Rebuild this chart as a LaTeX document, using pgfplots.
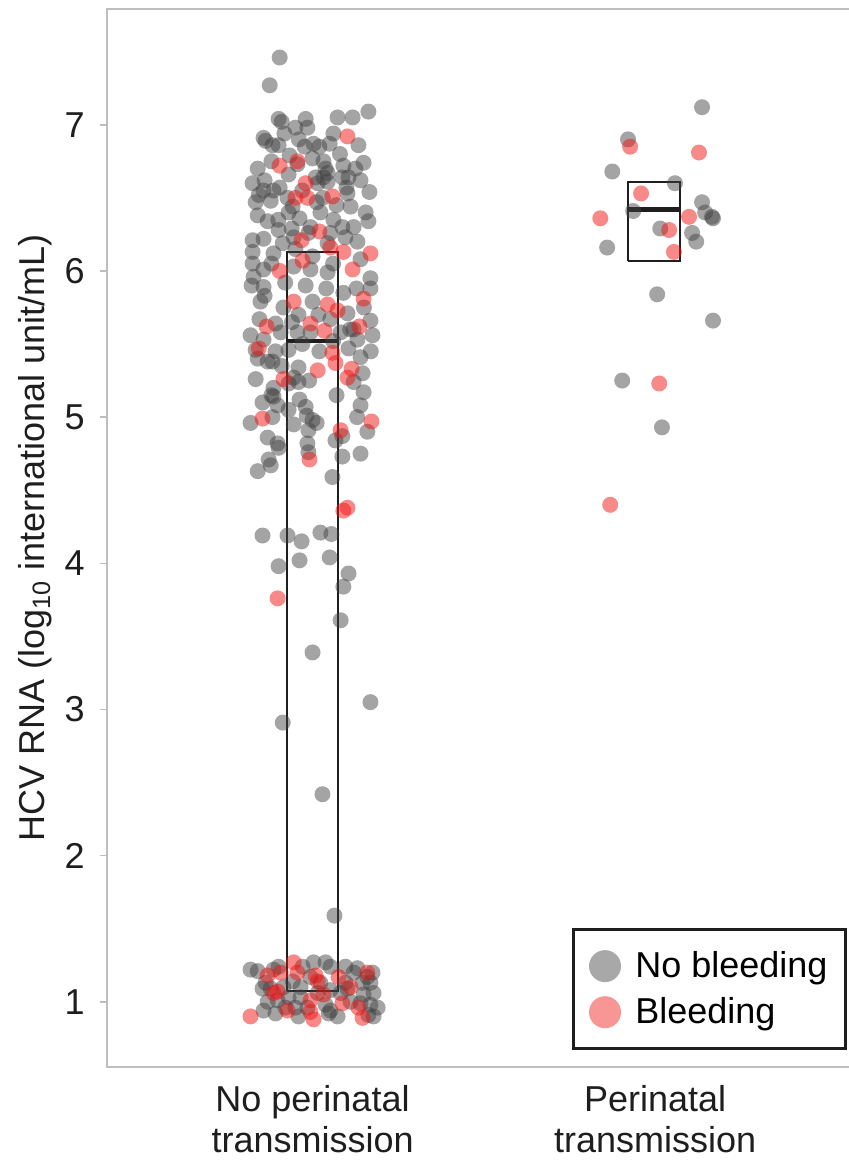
\documentclass[border=0pt]{standalone}
\usepackage{fontspec}
\setmainfont{Liberation Sans}
\usepackage{pgfplots}
\usepackage{pgfplotstable}
\pgfplotsset{compat=1.18}

\definecolor{ptgray}{RGB}{64,64,64}
\definecolor{ptred}{RGB}{240,20,20}
\definecolor{axgray}{RGB}{190,190,190}
\definecolor{txt}{RGB}{30,30,30}

% no bleeding: x (1 = no transmission, 2 = transmission, with jitter), HCV RNA
\pgfplotstableread{
x y
0.904 7.46
0.875 7.27
1.163 7.09
1.073 7.05
1.117 7.05
0.901 7.04
0.910 7.02
0.980 7.04
0.985 6.98
0.950 6.98
0.918 6.94
1.061 6.94
0.857 6.91
0.863 6.89
0.883 6.86
0.901 6.86
1.050 6.87
1.134 6.86
0.977 6.85
1.003 6.87
0.933 6.79
0.956 6.73
1.000 6.77
1.032 6.75
1.038 6.70
1.044 6.67
1.032 6.64
1.090 6.72
1.149 6.74
1.125 6.70
0.840 6.70
0.930 6.66
1.087 6.64
1.105 6.64
0.825 6.60
1.009 6.64
1.015 6.60
1.044 6.61
0.904 6.57
0.857 6.55
0.886 6.55
1.099 6.57
0.843 6.52
0.927 6.50
1.012 6.47
1.102 6.53
0.834 6.47
0.878 6.48
1.166 6.54
0.942 6.44
1.023 6.40
1.111 6.44
1.155 6.40
1.163 6.34
0.840 6.38
0.869 6.34
0.962 6.36
0.994 6.30
1.061 6.35
1.087 6.30
0.901 6.28
0.939 6.29
1.052 6.26
0.825 6.21
0.857 6.22
0.913 6.19
0.945 6.23
0.988 6.26
1.096 6.23
1.131 6.20
1.044 6.19
0.825 6.13
0.886 6.12
0.825 6.05
0.857 6.01
0.945 6.03
0.994 6.01
1.044 5.99
1.169 5.95
0.828 5.96
0.848 5.79
1.000 5.79
1.128 5.88
1.169 5.88
0.822 5.90
0.857 5.89
0.915 5.75
0.959 5.70
1.017 5.70
1.102 5.71
1.052 5.67
0.845 5.67
0.892 5.64
1.169 5.66
1.120 5.60
0.819 5.56
0.857 5.53
0.907 5.58
0.956 5.58
0.994 5.58
1.082 5.58
1.175 5.56
1.131 5.53
0.834 5.46
1.105 5.47
0.892 5.45
0.930 5.46
1.140 5.41
0.869 5.38
0.883 5.38
0.959 5.34
1.146 5.30
0.834 5.26
0.945 5.27
0.930 5.23
0.959 5.24
1.120 5.24
0.886 5.20
1.149 5.17
0.962 5.12
0.854 5.10
0.886 5.14
0.898 5.08
1.140 5.08
0.980 5.07
0.883 5.00
0.983 5.01
1.000 4.98
0.819 4.96
0.945 4.95
1.012 4.96
0.988 4.91
1.160 4.90
0.869 4.86
1.087 4.87
1.067 4.84
0.898 4.82
0.901 4.79
0.985 4.82
0.988 4.76
1.140 4.75
1.087 4.73
0.872 4.71
0.878 4.67
0.840 4.63
1.058 4.59
0.930 6.40
0.970 6.55
1.030 6.50
1.070 6.45
0.900 6.35
1.120 6.30
0.950 6.15
1.000 6.10
1.060 6.05
0.880 6.05
1.140 6.08
0.920 5.92
0.980 5.90
1.040 5.88
1.090 5.85
0.860 5.83
1.150 5.75
0.940 5.65
1.110 5.60
0.970 5.50
1.060 5.52
0.840 5.40
1.020 5.45
0.910 5.35
1.170 5.45
0.990 5.25
1.070 5.15
0.880 5.15
1.130 5.00
0.930 5.05
1.020 6.85
0.960 6.90
1.140 6.62
0.860 6.62
1.080 6.80
0.880 6.75
0.854 4.19
0.927 4.19
0.968 4.15
1.023 4.21
1.055 4.20
0.901 3.98
0.962 4.02
1.050 4.04
1.105 3.93
1.090 3.84
1.082 3.61
1.000 3.39
1.169 3.05
0.913 2.91
1.029 2.42
1.064 1.59
0.819 1.22
0.840 1.21
0.863 1.13
0.886 1.22
0.901 1.24
0.854 1.09
0.878 1.09
0.915 1.10
0.971 1.24
1.003 1.27
1.038 1.27
0.994 1.17
1.023 1.13
1.096 1.24
1.131 1.23
1.175 1.20
1.169 1.13
1.146 1.13
1.102 1.09
1.082 1.06
1.052 1.08
0.965 1.10
0.942 1.14
0.869 1.00
0.898 1.01
0.965 1.03
0.985 0.96
1.038 0.98
1.052 0.94
1.111 1.00
1.140 0.99
1.169 0.98
1.163 0.91
1.178 0.90
1.073 0.90
1.047 0.92
0.959 0.90
0.921 0.96
0.892 0.92
0.857 0.94
1.178 1.06
1.149 1.05
1.160 1.17
1.120 1.20
1.096 1.13
1.015 1.06
0.930 1.03
0.950 0.96
1.190 0.96
1.052 1.24
2.137 7.12
1.921 6.90
1.875 6.68
2.058 6.60
2.137 6.47
1.936 6.41
2.146 6.40
2.166 6.37
2.169 6.36
2.015 6.29
2.108 6.26
2.120 6.20
1.860 6.16
2.006 5.84
2.169 5.66
1.904 5.25
2.020 4.93
}\nobleed

% bleeding
\pgfplotstableread{
x y
1.102 6.92
0.904 6.72
0.956 6.75
0.980 6.60
0.950 6.50
0.985 6.50
1.058 6.51
1.020 6.27
0.968 6.21
1.052 6.16
1.090 6.13
1.169 6.12
0.971 6.07
1.117 6.01
0.904 6.00
0.945 5.79
1.044 5.77
1.073 5.73
1.149 5.81
0.994 5.64
0.866 5.62
1.137 5.62
1.035 5.59
0.843 5.47
1.058 5.44
1.067 5.37
1.015 5.32
1.114 5.33
1.102 5.27
0.915 5.26
0.854 4.99
1.172 4.97
1.082 4.91
0.991 4.71
1.090 4.36
1.102 4.38
0.898 3.76
0.869 1.18
0.907 1.20
0.898 1.07
0.945 1.27
0.956 1.20
1.009 1.18
1.015 1.14
1.076 1.17
1.160 1.20
1.111 1.10
1.032 1.05
0.886 1.06
0.994 1.01
1.087 0.99
1.134 0.96
1.146 0.89
0.994 0.93
1.003 0.88
0.927 0.94
0.819 0.90
1.927 6.85
2.128 6.81
1.959 6.53
1.840 6.36
2.099 6.37
2.041 6.28
2.055 6.13
2.012 5.23
1.869 4.40
}\bleed

\begin{document}
\begin{tikzpicture}
\useasboundingbox (-53.5pt,-47pt) rectangle (371pt,533.5pt);
\begin{axis}[
    scale only axis,
    width=371pt, height=529pt,
    xmin=0.4, xmax=2.566,
    ymin=0.554, ymax=7.792,
    axis line style={draw=none},
    font=\fontsize{18}{20.5}\selectfont\color{txt},
    /pgf/number format/assume math mode=true,
    xtick={1,2},
    xticklabels={No perinatal\\transmission, Perinatal\\transmission},
    xticklabel style={align=center, inner sep=0pt, yshift=-5.5pt},
    xtick style={draw=none},
    ytick={1,2,3,4,5,6,7},
    yticklabel style={inner sep=0pt, xshift=-7.5pt},
    tick align=outside,
    major tick length=3.5pt,
    ytick style={draw=axgray, line width=0.75pt},
    ylabel={HCV RNA (log\textsubscript{10} international unit/mL)},
    ylabel style={at={(axis description cs:-0.097,0.5)}, anchor=center, rotate=0},
    legend cell align=left,
    legend style={at={(0.997,0.016)}, anchor=south east, draw=txt,
        line width=1.3pt, inner xsep=7pt, inner ysep=9pt, row sep=4.5pt,
        font=\fontsize{18}{20.5}\selectfont,
        /tikz/every odd column/.append style={column sep=4.5pt}},
]
\addplot[only marks, mark=*, mark size=4pt, color=ptgray,
    mark options={fill=ptgray, fill opacity=0.48, draw opacity=0},
    legend image code/.code={\fill[ptgray, fill opacity=0.45, draw opacity=0] (8pt,0pt) circle (8pt);}]
    table[x=x, y=y] {\nobleed};
\addlegendentry{No bleeding}
\addplot[only marks, mark=*, mark size=4pt, color=ptred,
    mark options={fill=ptred, fill opacity=0.5, draw opacity=0},
    legend image code/.code={\fill[ptred, fill opacity=0.45, draw opacity=0] (8pt,0pt) circle (8pt);}]
    table[x=x, y=y] {\bleed};
\addlegendentry{Bleeding}
% IQR boxes and medians
\addplot[forget plot, draw=txt, line width=1.1pt] coordinates {
    (0.926,1.074) (1.074,1.074) (1.074,6.13) (0.926,6.13) (0.926,1.074)};
\addplot[forget plot, draw=txt, line width=2.2pt] coordinates {
    (0.926,5.52) (1.074,5.52)};
\addplot[forget plot, draw=txt, line width=1.1pt] coordinates {
    (1.921,6.07) (2.073,6.07) (2.073,6.61) (1.921,6.61) (1.921,6.07)};
\addplot[forget plot, draw=txt, line width=2.2pt] coordinates {
    (1.921,6.42) (2.073,6.42)};
\end{axis}
\draw[axgray, line width=0.75pt] (371pt,529pt) -- (0,529pt) -- (0,0) -- (371pt,0);
\end{tikzpicture}
\end{document}
